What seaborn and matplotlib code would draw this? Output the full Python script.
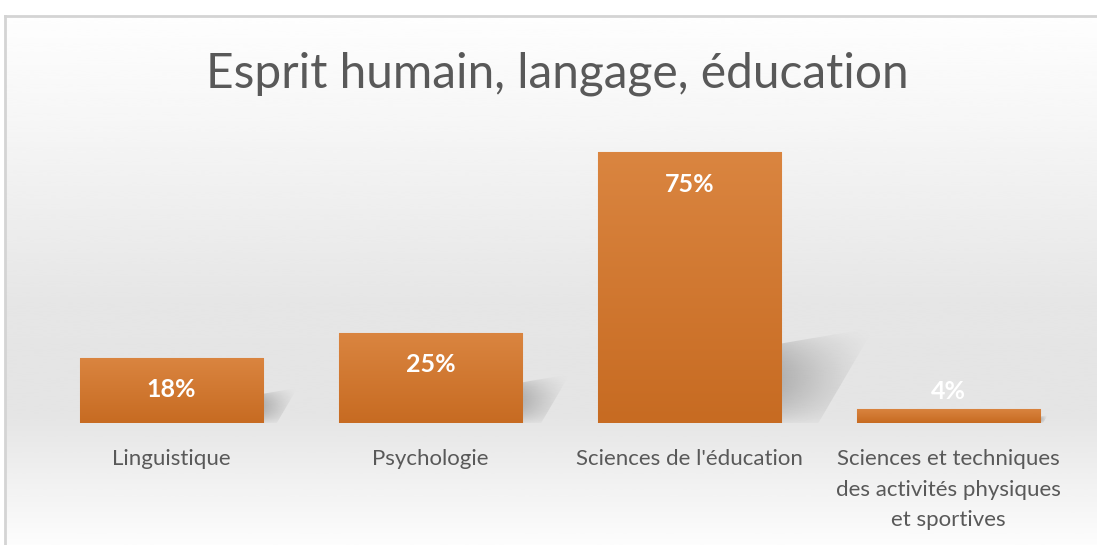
import numpy as np
import pandas as pd
import seaborn as sns
import matplotlib.pyplot as plt
from matplotlib.patches import Polygon
from matplotlib.colors import LinearSegmentedColormap

# données du graphique
categories = [
    "Linguistique",
    "Psychologie",
    "Sciences de l'éducation",
    "Sciences et techniques\ndes activités physiques\net sportives",
]
valeurs = [18, 25, 75, 4]
etiquettes = ["18%", "25%", "75%", "4%"]
titre = "Esprit humain, langage, éducation"

df = pd.DataFrame({"categorie": categories, "valeur": valeurs})

sns.set_theme(style="white")
plt.rcParams["font.family"] = ["Lato", "DejaVu Sans"]

fig = plt.figure(figsize=(10.97, 5.45), dpi=100)
W, H = 1097, 545

# fond dégradé (blanc -> gris -> blanc) avec le cadre
bg = fig.add_axes([5 / W, 0, 1 - 5 / W, 1 - 16 / H], zorder=-2)
niveaux = np.interp(np.linspace(0, 1, 300),
                    [0, 0.2, 0.55, 0.75, 1.0],
                    [0.995, 0.965, 0.90, 0.895, 0.99])
bg.imshow(niveaux[:, None], aspect="auto", cmap="gray", vmin=0, vmax=1,
          extent=[0, 1, 0, 1], interpolation="bicubic")
bg.set_xlim(0, 1)
bg.set_ylim(0, 1)
bg.set_xticks([])
bg.set_yticks([])
for side in ["right", "bottom"]:
    bg.spines[side].set_visible(False)
for side in ["top", "left"]:
    bg.spines[side].set_color("#d4d4d4")
    bg.spines[side].set_linewidth(2)

ax = fig.add_axes([42 / W, (H - 423) / H, (1078 - 42) / W, (423 - 134) / H])
ax.set_facecolor("none")

sns.barplot(data=df, x="categorie", y="valeur", color="#d07a32",
            width=0.707, saturation=1, ax=ax, zorder=3)

# dégradé orange dans chaque barre + ombre portée en biais (floue)
cmap_barre = LinearSegmentedColormap.from_list("orange", ["#c76b22", "#da8540"])
gx = np.linspace(0, 1, 120)
gy = np.linspace(0, 1, 80)
alpha = 0.42 * (1 - gx[None, :]) ** 1.2 * np.sin(np.pi * gy[:, None]) ** 0.8
ombre = np.zeros((80, 120, 4))
ombre[..., :3] = 0.42
ombre[..., 3] = alpha
for patch in list(ax.patches):
    patch.set_edgecolor("#e6a36a")
    patch.set_linewidth(0.8)
    x0, y0 = patch.get_x(), patch.get_y()
    w, h = patch.get_width(), patch.get_height()
    im = ax.imshow(np.linspace(0, 1, 100)[:, None], cmap=cmap_barre, aspect="auto",
                   extent=[x0, x0 + w, y0, y0 + h], origin="lower", zorder=4)
    im.set_clip_path(patch)

    # ombre (décor)
    x1 = x0 + w
    s = min(h * 0.45, 22)
    dx = 0.36 * s / 22
    ims = ax.imshow(ombre, aspect="auto", extent=[x1, x1 + dx, -s * 0.05, s * 1.2],
                    origin="lower", zorder=2, interpolation="bicubic")
    poly = Polygon([(x1, 0), (x1, s), (x1 + dx, s * 1.2), (x1 + dx * 0.4, 0)],
                   closed=True, facecolor="none", edgecolor="none")
    ax.add_patch(poly)
    ims.set_clip_path(poly)

# étiquettes de valeurs
for i, (v, txt) in enumerate(zip(valeurs, etiquettes)):
    decalage = -23 if v > 10 else 12
    ax.annotate(txt, xy=(i, v), xytext=(0, decalage), textcoords="offset points",
                ha="center", va="center", color="white", fontsize=18,
                fontweight="bold", zorder=5)

ax.set_xlim(-0.5, 3.5)
ax.set_ylim(0, 80)
ax.set_xlabel("")
ax.set_ylabel("")
ax.set_yticks([])
sns.despine(ax=ax, left=True, bottom=True)
ax.tick_params(axis="x", length=0, pad=19, labelsize=16, labelcolor="#595959")
for lab in ax.get_xticklabels():
    lab.set_linespacing(1.65)
    lab.set_ha("center")

fig.text(0.508, 1 - 74 / H, titre, ha="center", va="center",
         fontsize=34.5, color="#595959")

fig.savefig("out.png", dpi=100)
